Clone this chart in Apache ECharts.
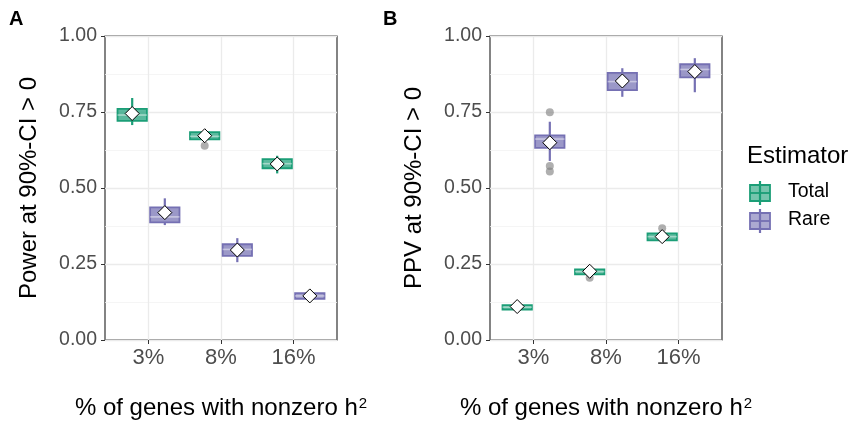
<!DOCTYPE html>
<html>
<head>
<meta charset="utf-8">
<script src="https://cdn.jsdelivr.net/npm/echarts@6/dist/echarts.min.js"></script>
<style>
html, body { margin: 0; background: #fff; }
#chart { width: 854px; height: 421px; }
</style>
</head>
<body>
<div id="chart"></div>
<script>
var categories = ['3%', '8%', '16%'];
var estimators = ['Total', 'Rare'];
var colors = ['#1b9e77', '#7570b3'];

// [min, q1, median, q3, max] per category
var powerTotal = [[0.707, 0.721, 0.740, 0.760, 0.796], [0.658, 0.660, 0.670, 0.684, 0.686], [0.548, 0.565, 0.580, 0.595, 0.606]];
var powerTotalMean = [0.745, 0.672, 0.579];
var powerTotalOut = [[2, 0.639]];
var powerRare = [[0.378, 0.387, 0.405, 0.436, 0.466], [0.256, 0.277, 0.298, 0.315, 0.335], [0.134, 0.135, 0.145, 0.154, 0.155]];
var powerRareMean = [0.419, 0.296, 0.145];
var powerRareOut = [];

var ppvTotal = [[0.099, 0.100, 0.108, 0.115, 0.116], [0.214, 0.216, 0.225, 0.232, 0.234], [0.327, 0.328, 0.340, 0.351, 0.352]];
var ppvTotalMean = [0.110, 0.226, 0.340];
var ppvTotalOut = [[2, 0.205], [3, 0.368]];
var ppvRare = [[0.589, 0.632, 0.661, 0.673, 0.718], [0.800, 0.822, 0.850, 0.879, 0.894], [0.815, 0.864, 0.890, 0.907, 0.927]];
var ppvRareMean = [0.649, 0.852, 0.883];
var ppvRareOut = [[1, 0.749], [1, 0.572], [1, 0.554]];

var dodge = 0.225, halfW = 0.2025;
var font = "'Liberation Sans', Arial, Helvetica, sans-serif";

function rgba(hex, a) {
	var n = parseInt(hex.slice(1), 16);
	return 'rgba(' + (n >> 16) + ',' + ((n >> 8) & 255) + ',' + (n & 255) + ',' + a + ')';
}

function boxData(stats, means, offset) {
	return stats.map(function(s, i) {
		return [i + 1 + offset].concat(s, [means[i]]);
	});
}

//箱线图 + 均值菱形
function renderBox(color) {
	return function(params, api) {
		var x = api.value(0);
		var p = function(dx, v) { return api.coord([x + dx, v]); };
		var lo = p(-halfW, api.value(2)), hi = p(halfW, api.value(4));
		var wMin = p(0, api.value(1)), wQ1 = p(0, api.value(2)), wQ3 = p(0, api.value(4)), wMax = p(0, api.value(5));
		var medL = p(-halfW, api.value(3)), medR = p(halfW, api.value(3));
		var m = p(0, api.value(6)), d = 7;
		return {
			type: 'group',
			children: [
				{ type: 'line', shape: { x1: wMin[0], y1: wMin[1], x2: wQ1[0], y2: wQ1[1] }, style: { stroke: color, lineWidth: 2.2 } },
				{ type: 'line', shape: { x1: wQ3[0], y1: wQ3[1], x2: wMax[0], y2: wMax[1] }, style: { stroke: color, lineWidth: 2.2 } },
				{ type: 'rect', shape: { x: lo[0], y: hi[1], width: hi[0] - lo[0], height: lo[1] - hi[1] },
					style: { fill: rgba(color, 0.72), stroke: color, lineWidth: 1.8 } },
				{ type: 'line', shape: { x1: medL[0], y1: medL[1], x2: medR[0], y2: medR[1] }, style: { stroke: 'rgba(255,255,255,0.45)', lineWidth: 1.6 } },
				{ type: 'polygon', shape: { points: [[m[0], m[1] - d], [m[0] + d, m[1]], [m[0], m[1] + d], [m[0] - d, m[1]]] },
					style: { fill: '#fff', stroke: '#000', lineWidth: 1 }, z2: 10 }
			]
		};
	};
}

function outData(list, offset) {
	return list.map(function(o) { return [o[0] + offset, o[1]]; });
}

var grids = [
	{ left: 105, top: 36, width: 232, height: 304, show: true, borderColor: '#333', borderWidth: 1.2, outerBoundsMode: 'none', containLabel: false },
	{ left: 490, top: 36, width: 232, height: 304, show: true, borderColor: '#333', borderWidth: 1.2, outerBoundsMode: 'none', containLabel: false }
];

var xTitle = '{a|% of genes with nonzero h}{s|2}';

function xAxisFor(i) {
	return {
		gridIndex: i, type: 'value', min: 0.4, max: 3.6,
		axisLine: { show: false },
		axisTick: { show: true, customValues: [1, 2, 3], length: 4, lineStyle: { color: '#333' } },
		axisLabel: { customValues: [1, 2, 3], formatter: function(v) { return categories[Math.round(v) - 1]; },
			color: '#4d4d4d', fontSize: 22, fontFamily: font, margin: 7 },
		splitLine: { show: true, lineStyle: { color: '#ebebeb', width: 1.3 } },
		name: xTitle, nameLocation: 'middle', nameGap: 56,
		nameTextStyle: { rich: {
			a: { fontSize: 24, fontFamily: font, color: '#000' },
			s: { fontSize: 15, fontFamily: font, color: '#000', verticalAlign: 'top', padding: [0, 0, 8, 1] }
		} }
	};
}

function yAxisFor(i, title) {
	return {
		gridIndex: i, type: 'value', min: 0, max: 1, interval: 0.25,
		axisLine: { show: false },
		axisTick: { show: true, length: 4, lineStyle: { color: '#333' } },
		axisLabel: { formatter: function(v) { return v.toFixed(2); }, color: '#4d4d4d', fontSize: 19.5, fontFamily: font, margin: 8 },
		splitLine: { show: true, lineStyle: { color: '#ebebeb', width: 1.3 } },
		minorTick: { show: false, splitNumber: 2 },
		minorSplitLine: { show: true, lineStyle: { color: '#f3f3f3', width: 0.8 } },
		name: title, nameLocation: 'middle', nameGap: 64,
		nameTextStyle: { fontSize: 24, fontFamily: font, color: '#000' }
	};
}

var panels = [
	[powerTotal, powerTotalMean, powerTotalOut, powerRare, powerRareMean, powerRareOut],
	[ppvTotal, ppvTotalMean, ppvTotalOut, ppvRare, ppvRareMean, ppvRareOut]
];

var series = [];
panels.forEach(function(pn, gi) {
	[0, 1].forEach(function(k) {
		var off = k === 0 ? -dodge : dodge;
		series.push({
			name: estimators[k] + ' outliers', type: 'scatter', xAxisIndex: gi, yAxisIndex: gi,
			data: outData(pn[k * 3 + 2], off), symbolSize: 8, z: 2,
			itemStyle: { color: 'rgba(130,130,130,0.8)' }, silent: true
		});
		series.push({
			name: estimators[k], type: 'custom', xAxisIndex: gi, yAxisIndex: gi, z: 3,
			data: boxData(pn[k * 3], pn[k * 3 + 1], off),
			encode: { x: 0, y: [1, 2, 3, 4, 5, 6] },
			renderItem: renderBox(colors[k])
		});
	});
});

function legendKey(color, cy) {
	var cx = 760;
	return [
		{ type: 'line', shape: { x1: cx, y1: cy - 12, x2: cx, y2: cy + 12 }, style: { stroke: color, lineWidth: 2.2 } },
		{ type: 'rect', shape: { x: cx - 10, y: cy - 8, width: 20, height: 16 }, style: { fill: rgba(color, 0.6), stroke: color, lineWidth: 1.8 }, z: 2 },
		{ type: 'line', shape: { x1: cx - 10, y1: cy, x2: cx + 10, y2: cy }, style: { stroke: color, lineWidth: 1.8 }, z: 3 }
	];
}

var chart = echarts.init(document.getElementById('chart'));
chart.setOption({
	animation: false,
	grid: grids,
	xAxis: [xAxisFor(0), xAxisFor(1)],
	yAxis: [yAxisFor(0, 'Power at 90%-CI > 0'), yAxisFor(1, 'PPV at 90%-CI > 0')],
	series: series,
	graphic: [
		{ type: 'text', left: 9, top: 9, style: { text: 'A', fontSize: 20, fontWeight: 'bold', fontFamily: font, fill: '#000' } },
		{ type: 'text', left: 383, top: 9, style: { text: 'B', fontSize: 20, fontWeight: 'bold', fontFamily: font, fill: '#000' } },
		{ type: 'text', left: 747, top: 144, style: { text: 'Estimator', fontSize: 24, fontFamily: font, fill: '#000' } },
		{ type: 'group', children: legendKey(colors[0], 193) },
		{ type: 'group', children: legendKey(colors[1], 221) },
		{ type: 'text', left: 788, top: 182, style: { text: estimators[0], fontSize: 19.5, fontFamily: font, fill: '#000' } },
		{ type: 'text', left: 788, top: 210, style: { text: estimators[1], fontSize: 19.5, fontFamily: font, fill: '#000' } }
	]
});
</script>
</body>
</html>
